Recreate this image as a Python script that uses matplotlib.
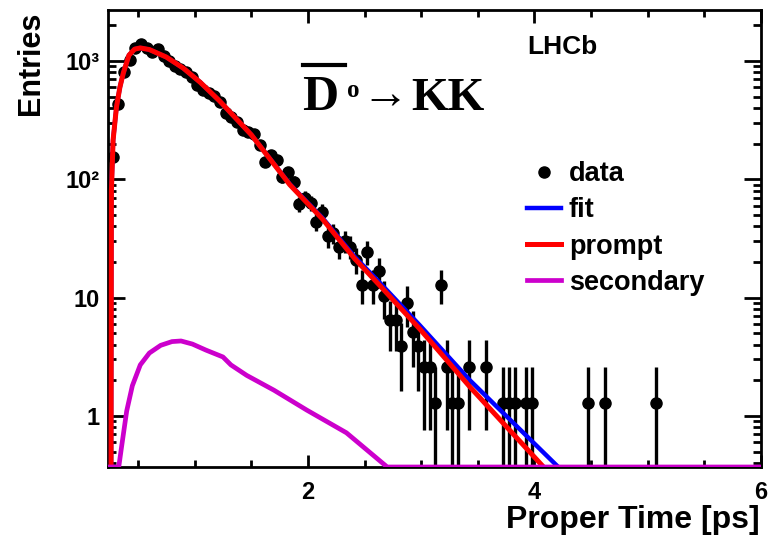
import numpy as np
import matplotlib
matplotlib.use("Agg")
import matplotlib.pyplot as plt
from matplotlib.lines import Line2D
from matplotlib.ticker import MultipleLocator, LogLocator, NullFormatter

# proper time histogram (bin centres, ps) -- only non-empty bins
t_data = [0.275, 0.325, 0.375, 0.425, 0.475, 0.525, 0.575, 0.625, 0.675, 0.725,
          0.775, 0.825, 0.875, 0.925, 0.975, 1.025, 1.075, 1.125, 1.175, 1.225,
          1.275, 1.325, 1.375, 1.425, 1.475, 1.525, 1.575, 1.625, 1.675, 1.725,
          1.775, 1.825, 1.875, 1.925, 1.975, 2.025, 2.075, 2.125, 2.175, 2.225,
          2.275, 2.325, 2.375, 2.425, 2.475, 2.525, 2.575, 2.625, 2.675, 2.725,
          2.775, 2.825, 2.875, 2.925, 2.975, 3.025, 3.075, 3.125, 3.175, 3.225,
          3.275, 3.325, 3.425, 3.575, 3.725, 3.775, 3.825, 3.925, 3.975, 4.475,
          4.625, 5.075]
n_data = [155, 430, 810, 1030, 1290, 1400, 1300, 1190, 1260, 1110,
          1010, 900, 850, 800, 730, 630, 570, 540, 510, 450,
          365, 335, 305, 262, 250, 240, 195, 140, 160, 145,
          105, 115, 95, 62, 70, 63, 44, 53, 33, 35,
          27, 30, 27, 21, 12.9, 24.5, 12.9, 16.8, 10.3, 6.45,
          6.45, 3.87, 9.03, 5.16, 3.87, 2.58, 2.58, 1.29, 12.9, 2.58,
          1.29, 1.29, 2.58, 2.58, 1.29, 1.29, 1.29, 1.29, 1.29, 1.29,
          1.29, 1.29]
w_entry = 1.29  # weight of one entry

# fitted curves
t_prompt = [0.262, 0.265, 0.28, 0.31, 0.34, 0.37, 0.42, 0.47, 0.52, 0.6, 0.75, 0.9,
            1.05, 1.22, 1.5, 1.84, 2.13, 2.41, 2.64, 2.99, 3.43, 4.08]
n_prompt = [0.37, 80, 215, 410, 600, 790, 1120, 1260, 1290, 1250, 1080, 870,
            660, 460, 238, 90, 46, 21.5, 12.5, 5.4, 1.76, 0.37]
t_fit = [0.262, 0.265, 0.28, 0.31, 0.34, 0.37, 0.42, 0.47, 0.52, 0.6, 0.75, 0.9,
         1.05, 1.22, 1.5, 1.84, 2.13, 2.41, 2.64, 2.99, 3.43, 4.21]
n_fit = [0.37, 80, 215, 410, 600, 790, 1120, 1260, 1290, 1250, 1080, 870,
         660, 460, 238, 91, 47, 22.3, 13.2, 5.8, 2.0, 0.37]
t_sec = [0.235, 0.33, 0.355, 0.40, 0.45, 0.52, 0.6, 0.7, 0.8, 0.88, 0.98, 1.1,
         1.25, 1.32, 1.46, 1.7, 1.99, 2.34, 2.7, 6.0]
n_sec = [0.37, 0.37, 0.55, 1.1, 1.8, 2.7, 3.4, 3.95, 4.25, 4.3, 4.05, 3.6,
         3.15, 2.7, 2.2, 1.65, 1.12, 0.72, 0.37, 0.37]

SANS = ["Liberation Sans", "DejaVu Sans"]
SERIF = ["Liberation Serif", "DejaVu Serif"]
plt.rcParams["font.family"] = SANS
plt.rcParams["font.weight"] = "bold"

W, H = 770, 537
fig = plt.figure(figsize=(W / 100, H / 100), dpi=100)
ax = fig.add_axes([108 / W, 70 / H, 653 / W, 457 / H])

n = np.asarray(n_data, dtype=float)
err = np.sqrt(w_entry * n)
err_lo = np.minimum(err, n - 1e-3)
ax.errorbar(t_data, n, yerr=[err_lo, err], fmt="o", color="black", ms=8,
            elinewidth=2.4, capsize=0, zorder=2)
ax.plot(t_fit, n_fit, color="blue", lw=3.2, zorder=3)
ax.plot(t_prompt, n_prompt, color="red", lw=3.6, zorder=4)
ax.plot(t_sec, n_sec, color="#cc00cc", lw=3.4, zorder=5)

ax.set_yscale("log")
ax.set_xlim(0.235, 6)
ax.set_ylim(0.37, 2700)

ax.set_xticks([2, 4, 6])
ax.set_xticklabels(["2", "4", "6"])
ax.xaxis.set_minor_locator(MultipleLocator(0.5))
ax.set_yticks([1, 10, 100, 1000])
ax.set_yticklabels(["1", "10", "10²", "10³"])
ax.yaxis.set_minor_locator(LogLocator(base=10, subs=np.arange(2, 10)))
ax.yaxis.set_minor_formatter(NullFormatter())

ax.tick_params(which="both", direction="in", top=True, right=True, width=2,
               labelsize=17)
ax.tick_params(axis="x", which="major", length=9, pad=10)
ax.tick_params(axis="x", which="minor", length=5)
ax.tick_params(axis="y", which="major", length=12, pad=6)
ax.tick_params(axis="y", which="minor", length=6)
for s in ax.spines.values():
    s.set_linewidth(2)

fig.text(31 / W, 1 - 12 / H, "Entries", rotation=90, ha="center", va="top",
         fontsize=22)
fig.text(760 / W, 1 - 528 / H, "Proper Time [ps]", ha="right", va="baseline",
         fontsize=23)
fig.text(527 / W, 1 - 47 / H, "LHCb", ha="left", va="center", fontsize=19)

# decay label
fig.text(302 / W, 1 - 110 / H, "D", family=SERIF, weight="bold", fontsize=36,
         ha="left", va="baseline")
fig.add_artist(Line2D([303 / W, 345 / W], [1 - 65 / H, 1 - 65 / H], lw=3,
                      color="black", transform=fig.transFigure))
fig.text(347 / W, 1 - 97 / H, "o", family=SERIF, weight="bold", fontsize=18,
         ha="left", va="baseline")
fig.text(361 / W, 1 - 108 / H, "→", family=SERIF, weight="normal", fontsize=34,
         ha="left", va="baseline")
fig.text(411 / W, 1 - 110 / H, "KK", family=SERIF, weight="bold", fontsize=34,
         ha="left", va="baseline")

handles = [Line2D([], [], marker="o", ls="none", color="black", ms=8),
           Line2D([], [], color="blue", lw=3.2),
           Line2D([], [], color="red", lw=3.6),
           Line2D([], [], color="#cc00cc", lw=3.4)]
fig.legend(handles, ["data", "fit", "prompt", "secondary"], loc="upper left",
           bbox_to_anchor=(527 / W, 1 - 161 / H), frameon=False, fontsize=19.5,
           handlelength=1.25, handletextpad=0.3, labelspacing=0.38,
           borderpad=0, borderaxespad=0)

fig.savefig("out.png", dpi=100)
